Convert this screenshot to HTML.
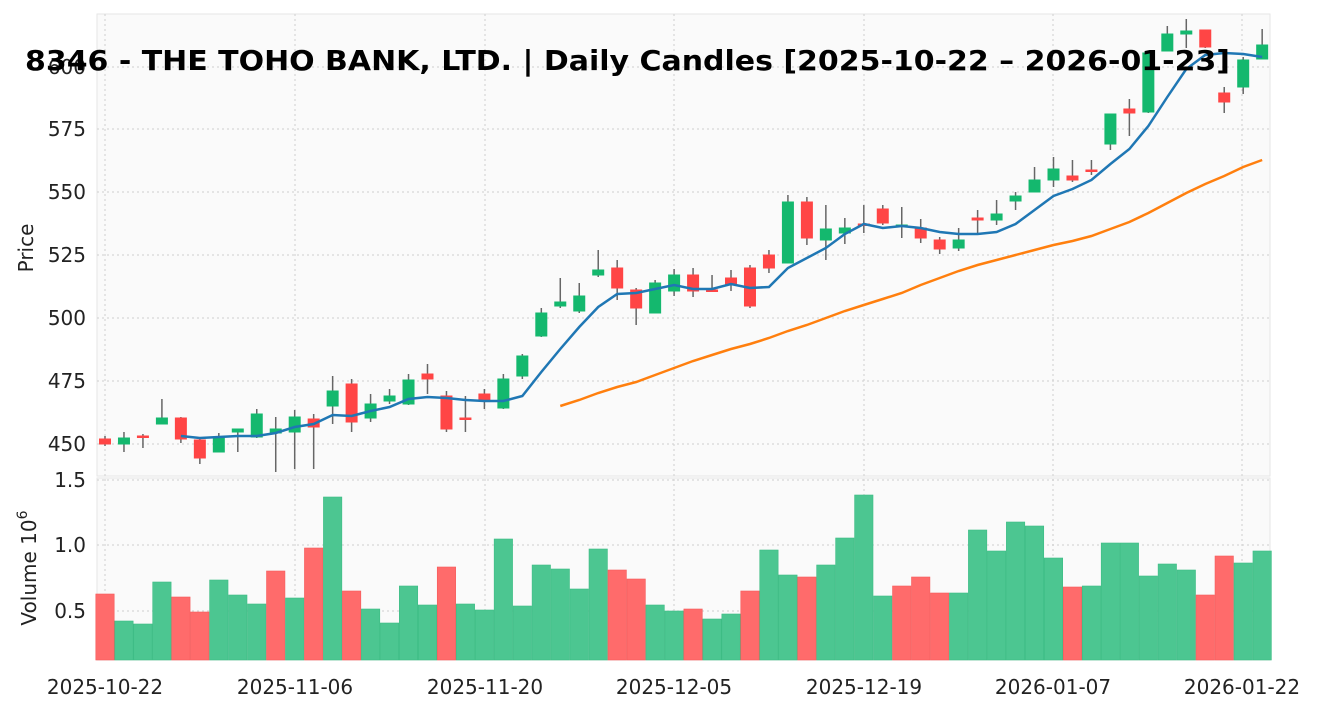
<!DOCTYPE html>
<html><head><meta charset="utf-8"><style>
body{margin:0;background:#fff;}
svg{display:block;font-family:"DejaVu Sans",sans-serif;}
</style></head><body>
<svg id="s" width="1317" height="711" viewBox="0 0 1317 711" xmlns="http://www.w3.org/2000/svg">
<rect x="97" y="14" width="1173" height="462" fill="#fafafa" stroke="#e6e6e6"/>
<rect x="97" y="478" width="1173" height="182" fill="#fafafa" stroke="#e6e6e6"/>
<g stroke="#cfcfcf" stroke-dasharray="2,3" stroke-width="1">
<line x1="97" x2="1270" y1="444" y2="444"/><line x1="97" x2="1270" y1="381" y2="381"/><line x1="97" x2="1270" y1="318" y2="318"/><line x1="97" x2="1270" y1="255" y2="255"/><line x1="97" x2="1270" y1="192" y2="192"/><line x1="97" x2="1270" y1="129" y2="129"/><line x1="97" x2="1270" y1="67" y2="67"/>
<line x1="97" x2="1270" y1="480" y2="480"/><line x1="97" x2="1270" y1="545" y2="545"/><line x1="97" x2="1270" y1="611" y2="611"/>
<line x1="105" x2="105" y1="14" y2="660"/><line x1="295" x2="295" y1="14" y2="660"/><line x1="485" x2="485" y1="14" y2="660"/><line x1="674" x2="674" y1="14" y2="660"/><line x1="864" x2="864" y1="14" y2="660"/><line x1="1053" x2="1053" y1="14" y2="660"/><line x1="1242" x2="1242" y1="14" y2="660"/>
</g>
<g id="vol"></g><g id="cnd"></g>
<polyline id="ma1" fill="none" stroke="#1f77b4" stroke-width="2.5"/>
<polyline id="ma2" fill="none" stroke="#ff7f0e" stroke-width="2.5"/>
<g font-size="20" fill="#222" text-anchor="end">
<text x="86" y="451">450</text><text x="86" y="388">475</text><text x="86" y="325">500</text><text x="86" y="262">525</text><text x="86" y="199">550</text><text x="86" y="136">575</text><text x="86" y="74">600</text>
<text x="86" y="487">1.5</text><text x="86" y="552">1.0</text><text x="86" y="618">0.5</text>
</g>
<g font-size="20" fill="#222" text-anchor="middle">
<text x="105" y="694">2025-10-22</text><text x="295" y="694">2025-11-06</text><text x="485" y="694">2025-11-20</text><text x="674" y="694">2025-12-05</text><text x="864" y="694">2025-12-19</text><text x="1053" y="694">2026-01-07</text><text x="1242" y="694">2026-01-22</text>
</g>
<text transform="translate(33,248) rotate(-90)" font-size="20" fill="#222" text-anchor="middle">Price</text>
<text transform="translate(36,568) rotate(-90)" font-size="20" fill="#222" text-anchor="middle">Volume  10<tspan dy="-9" font-size="14">6</tspan></text>
<text x="25" y="70" font-size="28" font-weight="bold" fill="#000" textLength="1205" lengthAdjust="spacingAndGlyphs">8346 - THE TOHO BANK, LTD. | Daily Candles [2025-10-22 – 2026-01-23]</text>
</svg>
<script>
var C=[[439,444,436,446,'r'],[438,444,432,452,'g'],[436,437,434,448,'r'],[418,424,399,424,'g'],[418,439,417,443,'r'],[440,458,437,464,'r'],[438,452,433,452,'g'],[429,432,429,452,'g'],[414,437,409,438,'g'],[429,433,417,472,'g'],[417,432,410,469,'g'],[419,427,414,469,'r'],[391,406,376,424,'g'],[384,422,379,432,'r'],[404,418,394,422,'g'],[396,401,389,404,'g'],[380,404,374,405,'g'],[374,379,364,394,'r'],[396,429,391,432,'r'],[418,419,396,432,'r'],[394,400,389,409,'r'],[379,408,374,409,'g'],[356,376,354,379,'g'],[313,336,308,337,'g'],[302,306,278,308,'g'],[296,311,283,313,'g'],[270,275,250,277,'g'],[268,288,260,300,'r'],[290,308,288,325,'r'],[283,313,280,313,'g'],[275,291,269,296,'g'],[275,291,268,297,'r'],[290,291,275,291,'r'],[278,284,270,291,'r'],[268,306,265,308,'r'],[255,268,250,273,'r'],[202,263,195,263,'g'],[202,238,197,245,'r'],[229,240,205,260,'g'],[228,233,218,244,'g'],[224,225,205,233,'r'],[209,223,205,225,'r'],[225,226,207,238,'g'],[228,238,219,243,'r'],[240,249,237,254,'r'],[240,248,228,251,'g'],[218,220,210,233,'r'],[214,220,200,225,'g'],[196,201,192,210,'g'],[180,192,167,192,'g'],[169,180,157,187,'g'],[176,180,160,182,'r'],[170,171,160,175,'r'],[114,144,114,150,'g'],[109,113,99,136,'r'],[53,112,53,113,'g'],[34,51,26,51,'g'],[31,34,19,48,'g'],[30,47,30,48,'r'],[93,102,87,113,'r'],[60,87,57,94,'g'],[45,59,29,59,'g']];
var V=[[594,'r'],[621,'g'],[624,'g'],[582,'g'],[597,'r'],[612,'r'],[580,'g'],[595,'g'],[604,'g'],[571,'r'],[598,'g'],[548,'r'],[497,'g'],[591,'r'],[609,'g'],[623,'g'],[586,'g'],[605,'g'],[567,'r'],[604,'g'],[610,'g'],[539,'g'],[606,'g'],[565,'g'],[569,'g'],[589,'g'],[549,'g'],[570,'r'],[579,'r'],[605,'g'],[611,'g'],[609,'r'],[619,'g'],[614,'g'],[591,'r'],[550,'g'],[575,'g'],[577,'r'],[565,'g'],[538,'g'],[495,'g'],[596,'g'],[586,'r'],[577,'r'],[593,'r'],[593,'g'],[530,'g'],[551,'g'],[522,'g'],[526,'g'],[558,'g'],[587,'r'],[586,'g'],[543,'g'],[543,'g'],[576,'g'],[564,'g'],[570,'g'],[595,'r'],[556,'r'],[563,'g'],[551,'g']];
var M1=[436,438,437,436,436,433,427,424,415,416,411,407,399,397,398,400,401,401,396,372,349,327,307,294,293,289,285,289,289,284,288,287,268,258,248,234,224,228,226,228,232,234,234,232,224,210,196,189,180,164,149,126,97,69,55,53,54,57];
var M2=[406,400,393,387,382,375,368,361,355,349,344,338,331,325,318,311,305,299,293,285,278,271,265,260,255,250,245,241,236,229,222,213,203,193,184,176,167,160];
var NS='http://www.w3.org/2000/svg';
function X(i){return 105+18.97*i;}
function el(p,t,a){var e=document.createElementNS(NS,t);for(var k in a)e.setAttribute(k,a[k]);p.appendChild(e);}
var cg=document.getElementById('cnd'),vg=document.getElementById('vol');
C.forEach(function(c,i){var x=X(i);
el(cg,'line',{x1:x,x2:x,y1:c[2],y2:c[3],stroke:'#666','stroke-width':1.5});
var f=c[4]=='g'?'#14b86e':'#ff4545';
el(cg,'rect',{x:x-5.5,y:c[0],width:11,height:Math.max(1.5,c[1]-c[0]),fill:f,stroke:f,'stroke-width':1});});
V.forEach(function(v,i){var x=X(i);var f=v[1]=='g'?'#4cc691':'#ff6b6b';var s=v[1]=='g'?'#3cbc84':'#f55a5a';
el(vg,'rect',{x:x-9.2,y:v[0],width:18.4,height:660-v[0],fill:f,stroke:s,'stroke-width':0.6});});
document.getElementById('ma1').setAttribute('points',M1.map(function(y,i){return X(i+4)+','+y}).join(' '));
document.getElementById('ma2').setAttribute('points',M2.map(function(y,i){return X(i+24)+','+y}).join(' '));
</script>
</body></html>
